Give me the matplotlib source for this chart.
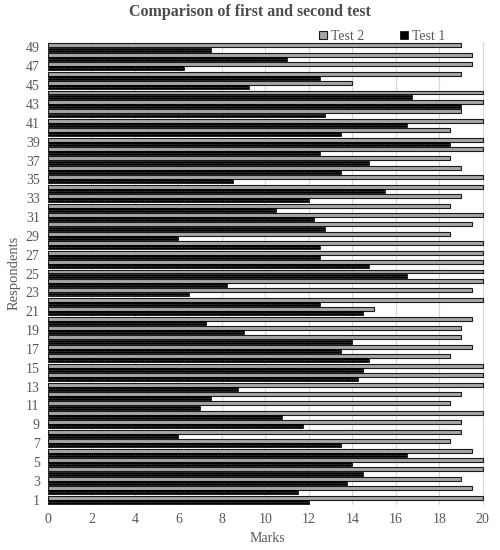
import numpy as np
import matplotlib
matplotlib.use('Agg')
import matplotlib.pyplot as plt

plt.rcParams['font.family'] = ['Liberation Serif', 'DejaVu Serif']

respondents = np.arange(1, 50)
# marks, respondent 1 .. 49
test1 = [12, 11.5, 13.75, 14.5, 14, 16.5, 13.5, 6, 11.75, 10.75,
         7, 7.5, 8.75, 14.25, 14.5, 14.75, 13.5, 14, 9, 7.25,
         14.5, 12.5, 6.5, 8.25, 16.5, 14.75, 12.5, 12.5, 6, 12.75,
         12.25, 10.5, 12, 15.5, 8.5, 13.5, 14.75, 12.5, 18.5, 13.5,
         16.5, 12.75, 19, 16.75, 9.25, 12.5, 6.25, 11, 7.5]
test2 = [20, 19.5, 19, 20, 20, 19.5, 18.5, 19, 19, 20,
         18.5, 19, 20, 20, 20, 18.5, 19.5, 19, 19, 19.5,
         15, 20, 19.5, 20, 20, 20, 20, 20, 18.5, 19.5,
         20, 18.5, 19, 20, 20, 19, 18.5, 20, 20, 18.5,
         20, 19, 20, 20, 14, 19, 19.5, 19.5, 19]
xticks = np.arange(0, 21, 2)
yticks = np.arange(1, 50, 2)

fig = plt.figure(figsize=(5, 5.5), dpi=100)
ax = fig.add_axes([0.096, 0.082, 0.878, 0.842])

h = 0.42
ax.barh(respondents + 0.22, test2, height=h, color='#a6a6a6', edgecolor='#1a1a1a',
        linewidth=0.8, label='Test 2', zorder=3)
ax.barh(respondents - 0.22, test1, height=h, color='#000000', edgecolor='#000000',
        linewidth=0.5, label='Test 1', zorder=3)
# faint dashed streak inside the black bars
for r, v in zip(respondents, test1):
    ax.plot([0, v], [r - 0.22, r - 0.22], color='#7f7f7f', lw=0.4, ls=(0, (2, 2)), zorder=4)

ax.set_xlim(0, 20.2)
ax.set_ylim(0.45, 49.6)
ax.set_xticks(xticks)
ax.set_yticks(yticks)
ax.tick_params(length=0, labelsize=10, colors='#595959', pad=6)
ax.grid(axis='x', color='#d9d9d9', lw=0.8, zorder=0)
for s in ax.spines.values():
    s.set_visible(False)

ax.set_xlabel('Marks', fontsize=10, color='#595959', labelpad=4)
ax.set_ylabel('Respondents', fontsize=10.5, color='#595959', labelpad=4)
fig.suptitle('Comparison of first and second test', fontsize=11.5, fontweight='bold',
             color='#4d4d4d', y=0.993)

leg = ax.legend(handles=ax.containers[:2], labels=['Test 2', 'Test 1'], ncol=2,
                loc='lower right', bbox_to_anchor=(0.905, 0.997), frameon=False,
                fontsize=10, handlelength=0.55, handleheight=0.55, handletextpad=0.3,
                columnspacing=2.6, borderaxespad=0, borderpad=0)
for t in leg.get_texts():
    t.set_color('#595959')

fig.savefig('out.png', dpi=100)
